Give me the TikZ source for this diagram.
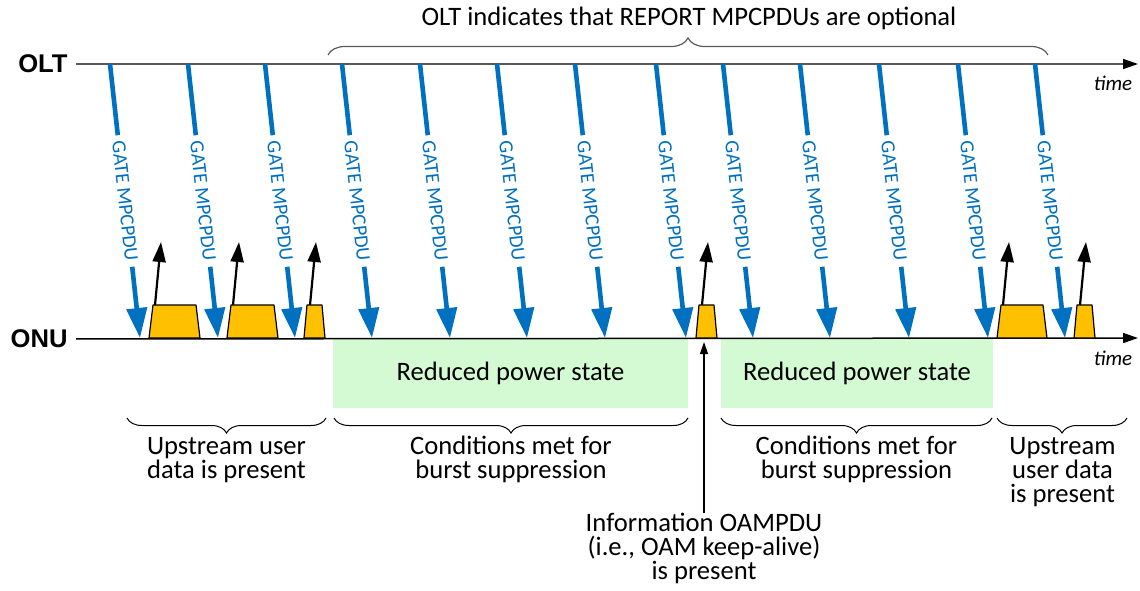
\documentclass[tikz,border=0pt]{standalone}
\usepackage{fontspec}
\setmainfont{Carlito}
\newfontfamily\labelfont{Liberation Sans}
\usepackage{tikz}
\usetikzlibrary{arrows.meta, decorations.pathreplacing}
\definecolor{gateblue}{RGB}{0, 112, 192}
\definecolor{burstgold}{RGB}{255, 192, 0}
\definecolor{sleepgreen}{RGB}{212, 250, 212}
\definecolor{axisgray}{RGB}{90, 90, 90}
\newcommand{\tightlines}{\lineskiplimit=-20pt\relax}

\begin{document}
\begin{tikzpicture}[x=0.5pt, y=-0.5pt,
    txt/.style={font={\fontsize{13.3pt}{12pt}\selectfont\tightlines}, align=center, inner sep=0pt},
    side/.style={font={\labelfont\bfseries\fontsize{12.8pt}{14pt}\selectfont}, anchor=east, inner xsep=4pt, inner ysep=0pt},
    timelbl/.style={font={\itshape\fontsize{10.5pt}{12pt}\selectfont}, inner sep=0pt},
    axis/.style={line width=0.75pt, -{Triangle[length=7.5pt, width=5pt, black]}},
    gate/.style={gateblue, line width=2.3pt, -{Triangle[length=15pt, width=10pt]}},
    gatelbl/.style={sloped, fill=white, text=gateblue, font={\fontsize{10pt}{12pt}\selectfont}, inner xsep=3pt, inner ysep=0.5pt},
    burst/.style={fill=burstgold, draw=black, line width=0.6pt, line join=round},
    reply/.style={black, line width=1.1pt, -{Triangle[length=10pt, width=6.5pt]}},
    bracedown/.style={decorate, decoration={brace, amplitude=7.5pt, mirror}, line width=0.5pt},
    braceup/.style={decorate, decoration={brace, amplitude=8.5pt}, line width=0.6pt, axisgray},
    pointer/.style={line width=0.6pt, -{Triangle[length=6pt, width=4pt]}}]
  \useasboundingbox (0,0) rectangle (1140,590);

  % reduced power periods
  \fill[sleepgreen] (333,339) rectangle (688,408);
  \fill[sleepgreen] (721,339) rectangle (993,408);
  \node[txt] (rps1) at (510.5,373) {Reduced power state};
  \node[txt] (rps2) at (857,373) {Reduced power state};

  % time lines
  \node[side] (olt) at (76,64) {OLT};
  \node[side] (onu) at (76,339) {ONU};
  \coordinate (oltend) at (1138,64);
  \coordinate (onuend) at (1138,338);
  \draw[axis, axisgray] (olt) -- (oltend);
  \draw[axis, black] (onu) -- (onuend);
  \node[timelbl] (t1) at (1113,83) {time};
  \node[timelbl] (t2) at (1113,358) {time};

  % GATE messages
  \foreach \x [count=\i] in {110,188,265,342,420,497,575,656,723,800,879,958,1035} {
    \coordinate (gt\i) at (\x,64);
    \coordinate (gb\i) at (\x+30,338);
    \draw[gate] (gt\i) -- node[gatelbl] {GATE MPCPDU} (gb\i);
  }

  % upstream bursts
  \foreach \l/\r/\d [count=\i] in {149/200/4, 227/278/4, 304/325/3, 696/717/3, 997/1047/4, 1074/1095/3} {
    \draw[burst] (\l,338) -- (\l+\d,305) -- (\r-\d,305) -- (\r,338) -- cycle;
    \coordinate (rt\i) at (\l+6,305);
    \coordinate (rh\i) at (\l+12,242);
    \draw[reply] (rt\i) -- (rh\i);
  }

  % top brace
  \draw[braceup] (328,55) -- (1048,55);
  \node[txt, anchor=base] (opt) at (689,25) {OLT indicates that REPORT MPCPDUs are optional};

  % bottom braces
  \draw[bracedown] (127,418) -- (326,418);
  \draw[bracedown] (334,418) -- (688,418);
  \draw[bracedown] (721,418) -- (992,418);
  \draw[bracedown] (997,418) -- (1127,418);
  \node[txt, anchor=north] (up1) at (226.5,437) {Upstream user\\data is present};
  \node[txt, anchor=north] (cond1) at (511,436) {Conditions met for\\burst suppression};
  \node[txt, anchor=north] (cond2) at (856.5,436) {Conditions met for\\burst suppression};
  \node[txt, anchor=north] (up2) at (1062.5,437) {Upstream\\user data\\is present};

  % keep-alive
  \node[txt, anchor=north] (info) at (704,513) {Information OAMPDU\\(i.e., OAM keep-alive)\\is present};
  \coordinate (oamtip) at (704,342);
  \draw[pointer] (info) -- (oamtip);
\end{tikzpicture}
\end{document}
